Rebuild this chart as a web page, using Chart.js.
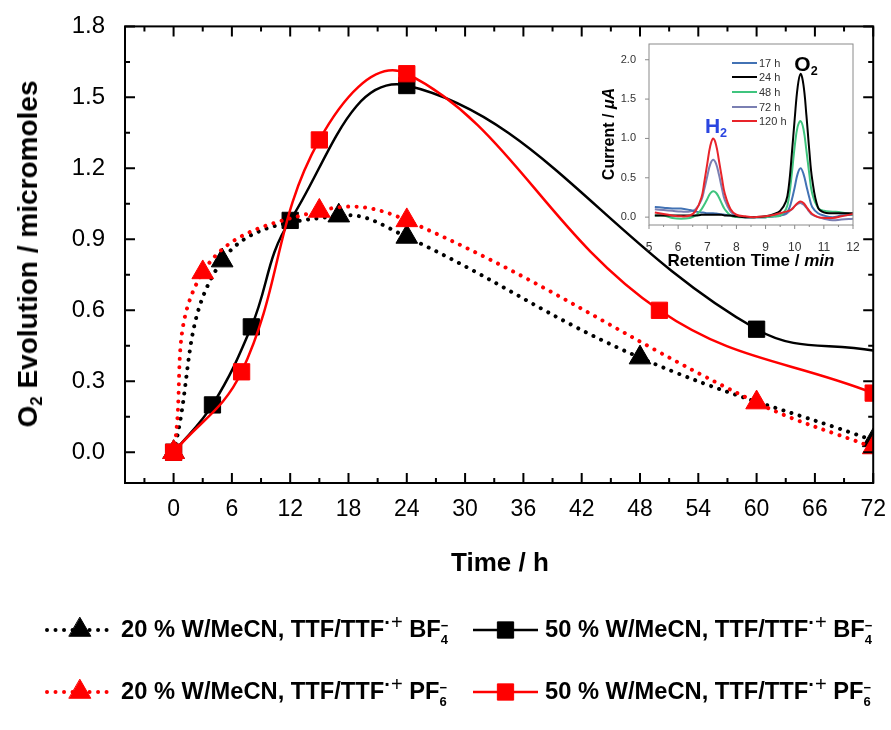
<!DOCTYPE html>
<html><head><meta charset="utf-8">
<script src="https://cdn.jsdelivr.net/npm/chart.js@4.4.0/dist/chart.umd.min.js"></script>
<style>
html,body{margin:0;padding:0;background:#fff;}
#wrap{position:relative;width:891px;height:730px;overflow:hidden;font-family:"Liberation Sans",Arial,Helvetica,sans-serif;color:#000;}
canvas{position:absolute;display:block;}
.t{position:absolute;white-space:nowrap;font-weight:bold;line-height:1;}
.rot{transform:translate(-50%,-50%) rotate(-90deg);}
.ctr{transform:translate(-50%,-50%);}
.leg{position:absolute;white-space:nowrap;font-weight:bold;font-size:23.7px;line-height:1;transform:translateY(-50%);}
.leg .rad{position:relative;top:-0.42em;font-size:0.85em;}
.leg .rad .pl{font-weight:normal;}
.ion{position:relative;display:inline-block;font-size:0.55em;width:0.6em;}
.ion .ch{position:absolute;left:0;top:-0.55em;}
.ion .n{position:relative;top:0.55em;}
.ileg{position:absolute;white-space:nowrap;font-size:11px;color:#333;line-height:1;transform:translateY(-50%);}
sub{font-size:0.6em;vertical-align:baseline;position:relative;top:0.3em;}
</style>
</head><body>
<div id="wrap">
<canvas id="main" width="891" height="730" style="left:0;top:0;"></canvas>
<canvas id="inset" width="275" height="245" style="left:600px;top:30px;"></canvas>

<div class="t rot" style="left:28px;top:254px;font-size:28px;">O<sub>2</sub> Evolution / micromoles</div>
<div class="t ctr" style="left:500px;top:562px;font-size:26px;">Time / h</div>
<div class="t rot" style="left:609px;top:134px;font-size:16px;">Current / <i>μA</i></div>
<div class="t ctr" style="left:751px;top:260px;font-size:17px;">Retention Time / <i>min</i></div>
<div class="t ctr" style="left:716px;top:125px;font-size:21px;color:#2a45e0;">H<sub>2</sub></div>
<div class="t ctr" style="left:806px;top:63px;font-size:21px;color:#000;">O<sub>2</sub></div>
<div id="legendText"></div>
<div id="insetLegendText"></div>
</div>
<script>
// ---------------- main chart data (O2 evolution vs time) ----------------
const hours20BF4 = [0, 5, 17, 24, 48, 72];
const o2_20BF4   = [0, 0.81, 1.00, 0.91, 0.40, 0.05];
const hours50BF4 = [0, 4, 8, 12, 24, 60, 72];
const o2_50BF4   = [0, 0.20, 0.53, 0.98, 1.55, 0.52, 0.43];
const hours20PF6 = [0, 3, 15, 24, 60, 72];
const o2_20PF6   = [0, 0.76, 1.02, 0.98, 0.21, 0.02];
const hours50PF6 = [0, 7, 15, 24, 50, 72];
const o2_50PF6   = [0, 0.34, 1.32, 1.60, 0.60, 0.25];

const timeTicks  = [0, 6, 12, 18, 24, 30, 36, 42, 48, 54, 60, 66, 72];
const timeMinor  = [-3, 3, 9, 15, 21, 27, 33, 39, 45, 51, 57, 63, 69];
const o2Ticks    = [0, 0.3, 0.6, 0.9, 1.2, 1.5, 1.8];
const o2Minor    = [0.15, 0.45, 0.75, 1.05, 1.35, 1.65];

const seriesSolvent = ['20 % W/MeCN', '50 % W/MeCN', '20 % W/MeCN', '50 % W/MeCN'];
const seriesAnion   = ['BF', 'BF', 'PF', 'PF'];
const seriesAnionN  = ['4', '4', '6', '6'];

// ---------------- inset data (chromatograms) ----------------
const retentionTime = [5.2,5.5,5.8,6.1,6.4,6.6,6.8,6.9,7.0,7.1,7.2,7.3,7.4,7.5,7.6,7.8,8.0,8.3,8.6,9.0,9.3,9.5,9.7,9.8,9.9,10.0,10.1,10.2,10.3,10.4,10.5,10.6,10.8,11.0,11.3,11.6,12.0];
const current17h  = [0.13,0.12,0.11,0.11,0.09,0.07,0.06,0.055,0.05,0.05,0.05,0.045,0.04,0.035,0.03,0.02,0.01,0.0,0.0,0.0,0.01,0.02,0.05,0.10,0.22,0.38,0.55,0.62,0.55,0.40,0.25,0.13,0.05,0.02,0.0,0.02,0.03];
const current24h  = [0.02,0.02,0.02,0.02,0.02,0.02,0.03,0.03,0.03,0.03,0.03,0.03,0.03,0.03,0.02,0.02,0.01,0.0,0.0,0.01,0.04,0.08,0.20,0.40,0.80,1.25,1.65,1.82,1.68,1.30,0.85,0.48,0.12,0.06,0.05,0.05,0.05];
const current48h  = [0.02,0.02,-0.01,-0.02,-0.01,0.02,0.10,0.16,0.23,0.30,0.33,0.31,0.25,0.17,0.10,0.02,0.0,0.0,0.0,0.0,0.01,0.02,0.10,0.25,0.55,0.90,1.15,1.22,1.12,0.85,0.55,0.30,0.12,0.08,0.07,0.06,0.03];
const current72h  = [0.10,0.09,0.08,0.07,0.07,0.10,0.22,0.36,0.52,0.67,0.73,0.68,0.54,0.37,0.22,0.07,0.02,0.0,0.0,0.0,0.01,0.02,0.04,0.07,0.10,0.14,0.17,0.18,0.16,0.12,0.07,0.03,0.0,-0.02,-0.04,-0.03,-0.02];
const current120h = [0.06,0.04,0.02,0.01,0.02,0.08,0.25,0.45,0.68,0.90,1.00,0.92,0.72,0.50,0.30,0.10,0.03,0.01,0.0,0.01,0.03,0.05,0.07,0.08,0.10,0.14,0.18,0.20,0.18,0.13,0.08,0.04,0.0,-0.01,-0.01,0.01,0.04];
const insetLabels = ['17 h', '24 h', '48 h', '72 h', '120 h'];
const insetXTicks = [5, 6, 7, 8, 9, 10, 11, 12];
const insetXMinor = [5.5, 6.5, 7.5, 8.5, 9.5, 10.5, 11.5];
const insetYTicks = [0, 0.5, 1.0, 1.5, 2.0];

const FONT = '"Liberation Sans", Arial, sans-serif';
const pts = (xs, ys) => xs.map((x, i) => ({x: x, y: ys[i]}));

// ---------- plugins ----------
const boxTicks = {
  id: 'boxTicks',
  afterDatasetsDraw(chart, args, o) {
    if (!o || !o.enabled) return;
    const {ctx, chartArea: a, scales: {x, y}} = chart;
    ctx.save();
    ctx.strokeStyle = o.color; ctx.lineWidth = o.width; ctx.lineCap = 'butt';
    ctx.beginPath();
    const dir = o.inward ? 1 : -1;
    const xt = (vals, len) => vals.forEach(v => {
      const p = x.getPixelForValue(v);
      if (p < a.left - 0.5 || p > a.right + 0.5) return;
      ctx.moveTo(p, a.bottom); ctx.lineTo(p, a.bottom - dir * len);
      if (o.allSides) { ctx.moveTo(p, a.top); ctx.lineTo(p, a.top + dir * len); }
    });
    const yt = (vals, len) => vals.forEach(v => {
      const p = y.getPixelForValue(v);
      if (p < a.top - 0.5 || p > a.bottom + 0.5) return;
      ctx.moveTo(a.left, p); ctx.lineTo(a.left + dir * len, p);
      if (o.allSides) { ctx.moveTo(a.right, p); ctx.lineTo(a.right - dir * len, p); }
    });
    xt(o.xMajor, o.major); xt(o.xMinor || [], o.minor);
    yt(o.yMajor, o.major); yt(o.yMinor || [], o.minor);
    ctx.stroke();
    ctx.strokeRect(a.left, a.top, a.right - a.left, a.bottom - a.top);
    ctx.restore();
  }
};
const areaBg = {
  id: 'areaBg',
  beforeDatasetsDraw(chart, args, o) {
    if (!o || !o.color) return;
    const {ctx, chartArea: a} = chart;
    ctx.save(); ctx.fillStyle = o.color;
    ctx.fillRect(a.left, a.top, a.right - a.left, a.bottom - a.top);
    ctx.restore();
  }
};
const legendMarks = {
  id: 'legendMarks',
  afterDraw(chart, args, o) {
    if (!o || !o.items) return;
    const ctx = chart.ctx;
    o.items.forEach(it => {
      const ds = chart.data.datasets[it.ds];
      ctx.save();
      ctx.strokeStyle = ds.borderColor; ctx.lineWidth = ds.borderWidth;
      ctx.lineCap = ds.borderCapStyle || 'butt';
      ctx.setLineDash(ds.borderDash || []);
      ctx.beginPath(); ctx.moveTo(it.x0, it.y); ctx.lineTo(it.x1, it.y); ctx.stroke();
      ctx.setLineDash([]);
      if (it.radius) {
        ctx.fillStyle = ds.pointBackgroundColor; ctx.strokeStyle = ds.pointBorderColor; ctx.lineWidth = 1;
        Chart.helpers.drawPoint(ctx, {pointStyle: ds.pointStyle, radius: it.radius, rotation: 0, borderWidth: 1}, (it.x0 + it.x1) / 2, it.y);
      }
      ctx.restore();
    });
  }
};

// ---------- main chart ----------
const triR = 12.5, sqR = 11.5;
const dotted = {borderWidth: 4, borderDash: [0.01, 8.5], borderCapStyle: 'round'};
const mainDatasets = [
  Object.assign({label: seriesSolvent[0] + ' ' + seriesAnion[0] + seriesAnionN[0], data: pts(hours20BF4, o2_20BF4),
    borderColor: '#000', pointBackgroundColor: '#000', pointBorderColor: '#000', pointStyle: 'triangle', pointRadius: triR, order: 3}, dotted),
  {label: seriesSolvent[1] + ' ' + seriesAnion[1] + seriesAnionN[1], data: pts(hours50BF4, o2_50BF4), borderWidth: 2.5,
    borderColor: '#000', pointBackgroundColor: '#000', pointBorderColor: '#000', pointStyle: 'rect',
    pointRadius: hours50BF4.map(h => h >= 72 ? 0 : sqR), order: 2},
  Object.assign({label: seriesSolvent[2] + ' ' + seriesAnion[2] + seriesAnionN[2], data: pts(hours20PF6, o2_20PF6),
    borderColor: '#ff0000', pointBackgroundColor: '#ff0000', pointBorderColor: '#ff0000', pointStyle: 'triangle', pointRadius: triR, order: 1}, dotted),
  {label: seriesSolvent[3] + ' ' + seriesAnion[3] + seriesAnionN[3], data: pts(hours50PF6, o2_50PF6), borderWidth: 2.5,
    borderColor: '#ff0000', pointBackgroundColor: '#ff0000', pointBorderColor: '#ff0000', pointStyle: 'rect', pointRadius: sqR, order: 0}
];
mainDatasets.forEach(d => { d.tension = 0.4; d.clip = 0; d.pointBorderWidth = 1; d.fill = false; d.pointHoverRadius = d.pointRadius; });

const legendRows = [630, 692];
const legendCols = [{x0: 47, x1: 113, tx: 121}, {x0: 473, x1: 538, tx: 545}];
const legendItems = mainDatasets.map((d, i) => {
  const c = legendCols[i % 2], r = legendRows[Math.floor(i / 2)];
  return {ds: i, x0: c.x0, x1: c.x1, y: r, radius: d.pointStyle === 'triangle' ? triR : sqR};
});

new Chart(document.getElementById('main'), {
  type: 'line',
  data: {datasets: mainDatasets},
  options: {
    responsive: false, animation: false, devicePixelRatio: 1,
    layout: {padding: {left: 0, right: 16, top: 24, bottom: 0}},
    plugins: {legend: {display: false}, tooltip: {enabled: false},
      boxTicks: {enabled: true, color: '#000', width: 2, inward: true, allSides: true, major: 10, minor: 5,
        xMajor: timeTicks, xMinor: timeMinor, yMajor: o2Ticks, yMinor: o2Minor},
      legendMarks: {items: legendItems}},
    scales: {
      x: {type: 'linear', min: -5, max: 72, grid: {display: false}, border: {display: false},
        afterBuildTicks: s => { s.ticks = timeTicks.map(v => ({value: v})); },
        afterFit: s => { s.height = 730 - 483; },
        ticks: {color: '#000', padding: 5, maxRotation: 0, autoSkip: false, font: {family: FONT, size: 23}}},
      y: {type: 'linear', min: -0.13, max: 1.8, grid: {display: false}, border: {display: false},
        afterBuildTicks: s => { s.ticks = o2Ticks.map(v => ({value: v})); },
        afterFit: s => { s.width = 125; },
        ticks: {color: '#000', padding: 12, autoSkip: false, callback: v => v.toFixed(1), font: {family: FONT, size: 24}}}
    }
  },
  plugins: [boxTicks, legendMarks]
});

// legend text (HTML)
const lt = document.getElementById('legendText');
mainDatasets.forEach((d, i) => {
  const c = legendCols[i % 2], r = legendRows[Math.floor(i / 2)];
  const el = document.createElement('div');
  el.className = 'leg';
  el.style.left = c.tx + 'px'; el.style.top = r + 'px';
  el.innerHTML = seriesSolvent[i] + ', TTF/TTF<span class="rad">·<span class="pl">+</span></span> ' + seriesAnion[i] +
    '<span class="ion"><span class="ch">−</span><span class="n">' + seriesAnionN[i] + '</span></span>';
  lt.appendChild(el);
});

// ---------- inset chart ----------
const insetColors = ['#4272b4', '#000000', '#3fc47e', '#7a7fb2', '#e8242a'];
const insetSeries = [current17h, current24h, current48h, current72h, current120h];
const insetOrder = [3, 1, 2, 4, 0];
const insetDatasets = insetSeries.map((s, i) => ({
  label: insetLabels[i], data: pts(retentionTime, s), borderColor: insetColors[i], borderWidth: 2,
  pointRadius: 0, tension: 0.4, fill: false, clip: 0, order: insetOrder[i]
}));
const insetLegendRows = [63, 77, 92, 107, 121];
const insetLegend = {
  id: 'insetLegend',
  afterDatasetsDraw(chart) {
    const ctx = chart.ctx;
    chart.data.datasets.forEach((d, i) => {
      ctx.save(); ctx.strokeStyle = d.borderColor; ctx.lineWidth = 2;
      const y = insetLegendRows[i] - 30;
      ctx.beginPath(); ctx.moveTo(132, y); ctx.lineTo(157, y); ctx.stroke(); ctx.restore();
    });
  }
};
new Chart(document.getElementById('inset'), {
  type: 'line',
  data: {datasets: insetDatasets},
  options: {
    responsive: false, animation: false, devicePixelRatio: 1,
    layout: {padding: {left: 0, right: 22, top: 14, bottom: 0}},
    plugins: {legend: {display: false}, tooltip: {enabled: false},
      areaBg: {color: '#ffffff'},
      boxTicks: {enabled: true, color: '#8a8a8a', width: 1, inward: false, allSides: false, major: 4, minor: 2,
        xMajor: insetXTicks, xMinor: insetXMinor, yMajor: insetYTicks, yMinor: []}},
    scales: {
      x: {type: 'linear', min: 5, max: 12, grid: {display: false}, border: {display: false},
        afterBuildTicks: s => { s.ticks = insetXTicks.map(v => ({value: v})); },
        afterFit: s => { s.height = 50; },
        ticks: {color: '#333', padding: 7, maxRotation: 0, autoSkip: false, font: {family: FONT, size: 12}}},
      y: {type: 'linear', min: -0.1, max: 2.2, grid: {display: false}, border: {display: false},
        afterBuildTicks: s => { s.ticks = insetYTicks.map(v => ({value: v})); },
        afterFit: s => { s.width = 49; },
        ticks: {color: '#333', padding: 5, autoSkip: false, callback: v => v.toFixed(1), font: {family: FONT, size: 11}}}
    }
  },
  plugins: [areaBg, boxTicks, insetLegend]
});
const ilt = document.getElementById('insetLegendText');
insetLabels.forEach((l, i) => {
  const el = document.createElement('div');
  el.className = 'ileg';
  el.style.left = '759px'; el.style.top = insetLegendRows[i] + 'px';
  el.textContent = l;
  ilt.appendChild(el);
});
</script>
</body></html>
